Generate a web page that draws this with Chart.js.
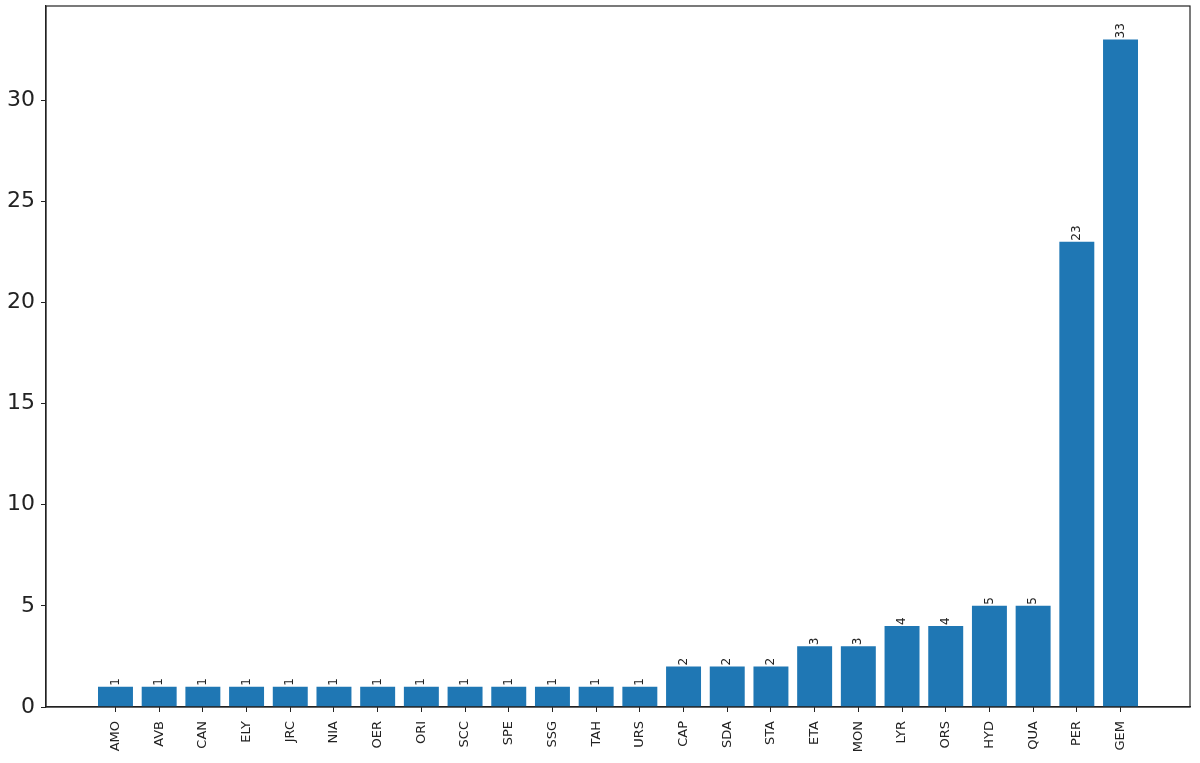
<!DOCTYPE html>
<html>
<head>
<meta charset="utf-8">
<script src="https://cdn.jsdelivr.net/npm/chart.js@4/dist/chart.umd.min.js"></script>
<style>
  html, body { margin: 0; padding: 0; background: #fff; }
  #wrap { width: 1200px; height: 763px; position: relative; }
</style>
</head>
<body>
<div id="wrap"><canvas id="c"></canvas></div>
<script>
const categories = ["AMO","AVB","CAN","ELY","JRC","NIA","OER","ORI","SCC","SPE","SSG","TAH","URS","CAP","SDA","STA","ETA","MON","LYR","ORS","HYD","QUA","PER","GEM"];
const counts = [1,1,1,1,1,1,1,1,1,1,1,1,1,2,2,2,3,3,4,4,5,5,23,33];
const yTicks = [0,5,10,15,20,25,30];

const FONT = "'DejaVu Sans', sans-serif";

const framePlugin = {
  id: 'frame',
  afterDraw(chart) {
    const a = chart.chartArea, ctx = chart.ctx;
    ctx.save();
    ctx.strokeStyle = '#222';
    ctx.lineWidth = 1.2;
    ctx.strokeRect(a.left, a.top, a.right - a.left, a.bottom - a.top);
    ctx.restore();
  }
};

const valueLabels = {
  id: 'valueLabels',
  afterDatasetsDraw(chart) {
    const ctx = chart.ctx;
    const meta = chart.getDatasetMeta(0);
    ctx.save();
    ctx.fillStyle = '#222';
    ctx.font = "12px " + FONT;
    meta.data.forEach((bar, i) => {
      ctx.save();
      ctx.translate(bar.x, bar.y - 1);
      ctx.rotate(-Math.PI / 2);
      ctx.textAlign = 'left';
      ctx.textBaseline = 'middle';
      ctx.fillText(String(counts[i]), 0, 0);
      ctx.restore();
    });
    ctx.restore();
  }
};

new Chart(document.getElementById('c'), {
  type: 'bar',
  data: {
    datasets: [{
      data: counts.map((v, i) => ({ x: i, y: v })),
      backgroundColor: '#1f77b4',
      borderWidth: 0,
      categoryPercentage: 1.0,
      barPercentage: 0.8
    }]
  },
  options: {
    responsive: true,
    maintainAspectRatio: false,
    animation: false,
    layout: { padding: { top: 6, right: 10, left: 0, bottom: 0 } },
    plugins: { legend: { display: false }, tooltip: { enabled: false } },
    scales: {
      x: {
        type: 'linear',
        offset: false,
        min: -1.59,
        max: 24.59,
        afterBuildTicks(scale) {
          scale.ticks = categories.map((_, i) => ({ value: i }));
        },
        afterFit(scale) {
          scale.height = 56;
          scale.paddingLeft = 0; scale.paddingRight = 0;
        },
        grid: { display: true, offset: false, drawOnChartArea: false, tickLength: 5, color: '#222', tickWidth: 1 },
        border: { display: true, color: '#222', width: 1.2 },
        ticks: {
          autoSkip: false,
          minRotation: 90,
          maxRotation: 90,
          padding: 9,
          color: '#222',
          font: { family: FONT, size: 13 },
          callback: (v) => categories[v] ?? ''
        }
      },
      y: {
        type: 'linear',
        min: 0,
        max: 34.65,
        afterBuildTicks(scale) {
          scale.ticks = yTicks.map(v => ({ value: v }));
        },
        afterFit(scale) {
          scale.width = 46;
          scale.paddingTop = 0; scale.paddingBottom = 0;
        },
        grid: { display: true, drawOnChartArea: false, tickLength: 5, color: '#222', tickWidth: 1 },
        border: { display: true, color: '#222', width: 1.2 },
        ticks: {
          padding: 6,
          color: '#222',
          font: { family: FONT, size: 22 },
          callback: (v) => String(v)
        }
      }
    }
  },
  plugins: [framePlugin, valueLabels]
});
</script>
</body>
</html>
